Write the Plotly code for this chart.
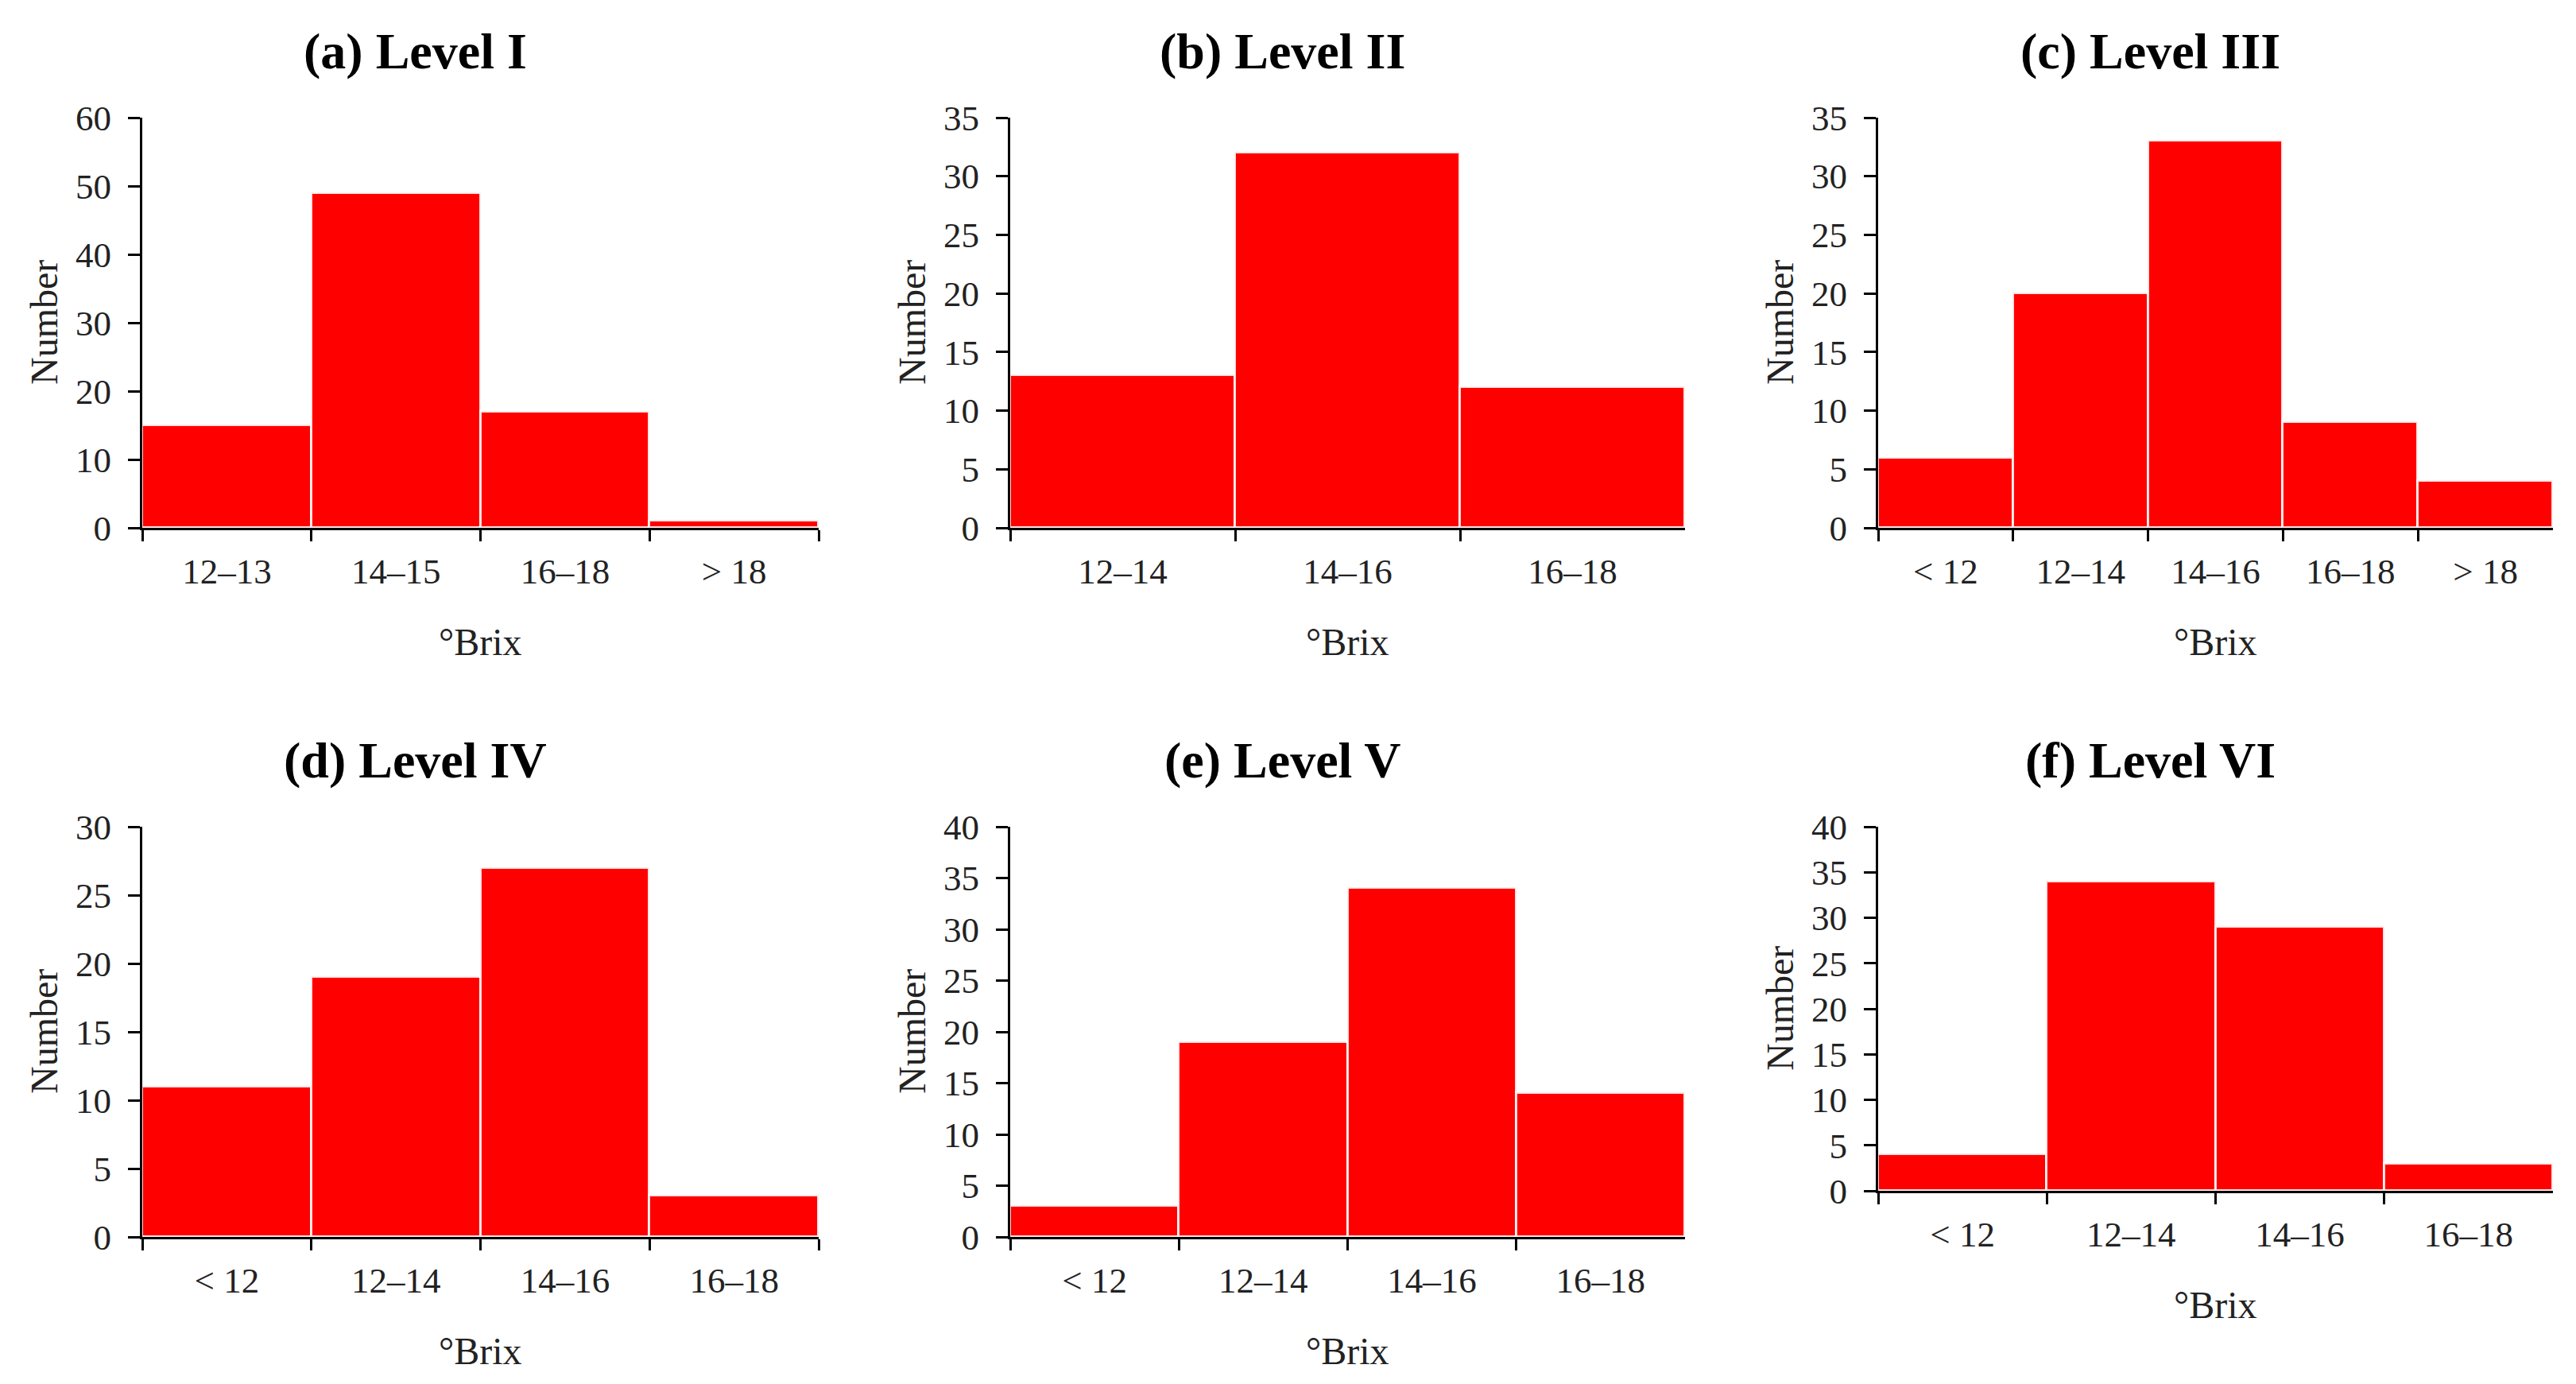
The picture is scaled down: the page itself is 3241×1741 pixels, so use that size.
import plotly.graph_objects as go

# ---- data ----
panel_titles = ["(a) Level I", "(b) Level II", "(c) Level III",
                "(d) Level IV", "(e) Level V", "(f) Level VI"]
cats_a = ["12–13", "14–15", "16–18", "> 18"]
vals_a = [15, 49, 17, 1]
cats_b = ["12–14", "14–16", "16–18"]
vals_b = [13, 32, 12]
cats_c = ["< 12", "12–14", "14–16", "16–18", "> 18"]
vals_c = [6, 20, 33, 9, 4]
cats_d = ["< 12", "12–14", "14–16", "16–18"]
vals_d = [11, 19, 27, 3]
cats_e = ["< 12", "12–14", "14–16", "16–18"]
vals_e = [3, 19, 34, 14]
cats_f = ["< 12", "12–14", "14–16", "16–18"]
vals_f = [4, 34, 29, 3]
y_max = [60, 35, 35, 30, 40, 40]
y_step = [10, 5, 5, 5, 5, 5]
x_title = "°Brix"
y_title = "Number"

W, H = 3241, 1741
FONT = "Liberation Serif"
RED = "#FF0000"
PAGE_OFFSET = 8  # default page body margin

# layout geometry (pixels in the screenshot)
col_x = [(179, 1030), (1271, 2120), (2363, 3212)]
panel_y = [(148, 664), (148, 664), (148, 664), (1040, 1556), (1040, 1556), (1040, 1498)]

def px_x(p):
    return (p - PAGE_OFFSET) / W

def px_y(p):
    return 1 - (p - PAGE_OFFSET) / H

fig = go.Figure()
cats_all = [cats_a, cats_b, cats_c, cats_d, cats_e, cats_f]
vals_all = [vals_a, vals_b, vals_c, vals_d, vals_e, vals_f]

annotations = []
for i in range(6):
    n = i + 1
    xa = "x" if n == 1 else f"x{n}"
    ya = "y" if n == 1 else f"y{n}"
    cats, vals = cats_all[i], vals_all[i]
    fig.add_trace(go.Bar(x=cats, y=vals, xaxis=xa, yaxis=ya,
                         marker=dict(color=RED, line=dict(width=3, color="rgba(255,255,255,0.85)")),
                         showlegend=False, hoverinfo="x+y"))
    x0, x1 = col_x[i % 3]
    y0, y1 = panel_y[i]
    xkey = "xaxis" if n == 1 else f"xaxis{n}"
    ykey = "yaxis" if n == 1 else f"yaxis{n}"
    fig.layout[xkey] = dict(
        domain=[px_x(x0), px_x(x1)], anchor=ya, type="category",
        range=[-0.5, len(cats) - 0.5], tickson="boundaries",
        ticks="outside", ticklen=14, tickwidth=3, tickcolor="black",
        showline=True, linewidth=3, linecolor="black",
        showgrid=False, zeroline=False, automargin=False,
        tickfont=dict(family=FONT, size=45, color="#222222"),
        ticklabelstandoff=13, fixedrange=True)
    fig.layout[ykey] = dict(
        domain=[px_y(y1), px_y(y0)], anchor=xa,
        range=[0, y_max[i]], dtick=y_step[i], tick0=0,
        ticks="outside", ticklen=15, tickwidth=3, tickcolor="black",
        showline=True, linewidth=3, linecolor="black",
        showgrid=False, zeroline=False, automargin=False,
        tickfont=dict(family=FONT, size=45, color="#222222"),
        ticklabelstandoff=12, fixedrange=True)
    # panel title
    annotations.append(dict(
        text=f"<b>{panel_titles[i]}</b>", xref="paper", yref="paper",
        x=px_x((x0 + x1) / 2 - 82), y=px_y(y0 - 83),
        xanchor="center", yanchor="middle", showarrow=False,
        font=dict(family=FONT, size=64, color="black")))
    # y title
    annotations.append(dict(
        text=y_title, xref="paper", yref="paper",
        x=px_x(x0 - 124), y=px_y((y0 + y1) / 2),
        xanchor="center", yanchor="middle", textangle=-90, showarrow=False,
        font=dict(family=FONT, size=48, color="#222222")))
    # x title
    annotations.append(dict(
        text=x_title, xref="paper", yref="paper",
        x=px_x((x0 + x1) / 2), y=px_y(y1 + 143),
        xanchor="center", yanchor="middle", showarrow=False,
        font=dict(family=FONT, size=48, color="#222222")))

fig.update_layout(
    width=W, height=H, margin=dict(l=0, r=0, t=0, b=0, autoexpand=False),
    paper_bgcolor="white", plot_bgcolor="white",
    bargap=0, annotations=annotations,
    font=dict(family=FONT))

fig.write_html("out.html")
